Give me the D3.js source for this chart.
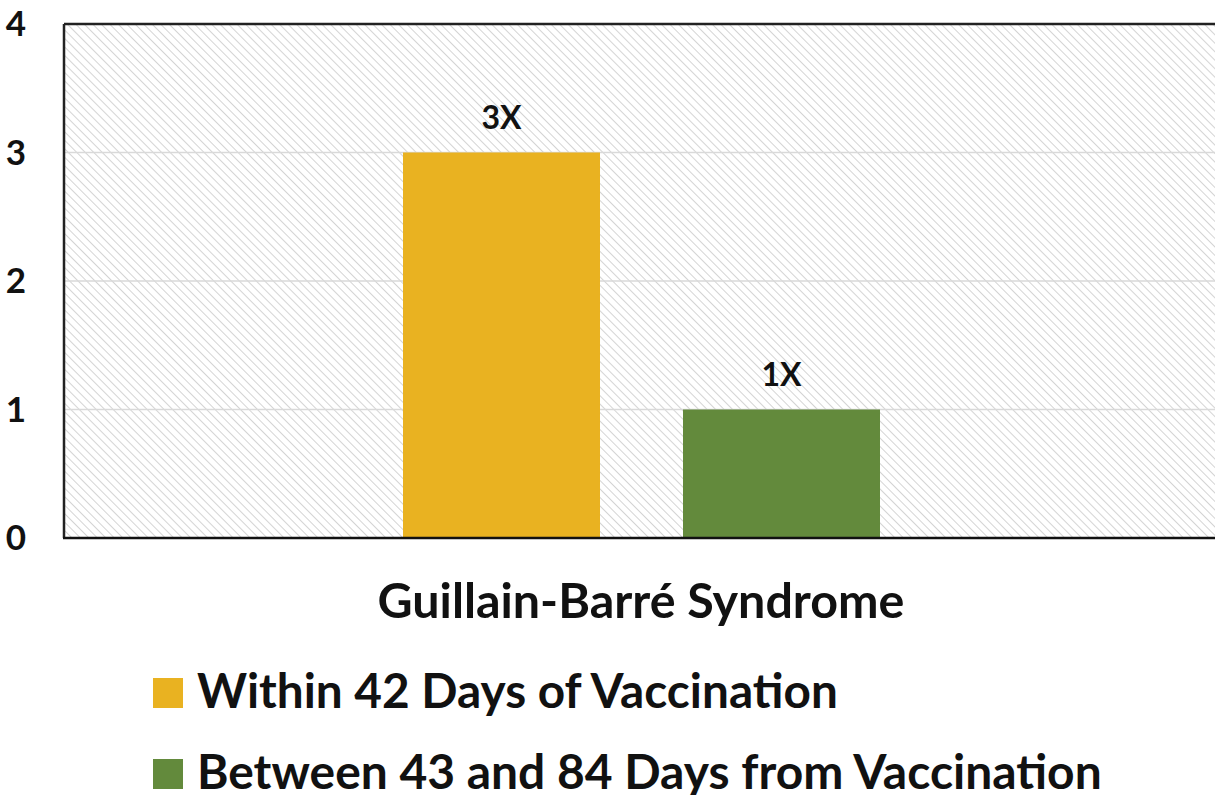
<!DOCTYPE html>
<html><head><meta charset="utf-8">
<script src="https://cdn.jsdelivr.net/npm/d3@7"></script>
<style>body{margin:0;background:#fff}svg{display:block}text{font-family:Lato,"Open Sans",sans-serif;font-weight:bold}</style>
</head><body><svg id="c" width="1215" height="795"></svg>
<script>
const category = "Guillain-Barré Syndrome";
const seriesNames = ["Within 42 Days of Vaccination", "Between 43 and 84 Days from Vaccination"];
const seriesValues = [3, 1];
const valueLabels = ["3X", "1X"];
const seriesColors = ["#E9B221", "#638A3C"];
const yTicks = [0, 1, 2, 3, 4];

const svg = d3.select("#c");
const m = {l: 64, t: 24, r: 0, b: 257};
const W = 1215, H = 795;
const x = d3.scaleBand().domain(seriesNames).range([403, 880]).paddingInner(0.2964);
const y = d3.scaleLinear().domain([0, 4]).range([H - m.b, m.t]);

const defs = svg.append("defs");
const pat = defs.append("pattern").attr("id","hatch").attr("patternUnits","userSpaceOnUse")
  .attr("width",6).attr("height",6).attr("patternTransform","rotate(-45)");
pat.append("rect").attr("width",6).attr("height",6).attr("fill","#fff");
pat.append("line").attr("x1",0).attr("y1",0).attr("x2",0).attr("y2",6).attr("stroke","#d4d4d4").attr("stroke-width",2);

svg.append("rect").attr("x", m.l).attr("y", m.t).attr("width", W - m.l + 5).attr("height", y(0) - m.t).attr("fill","url(#hatch)");

// gridlines
svg.append("g").selectAll("line").data(yTicks.filter(d => d > 0 && d < 4)).join("line")
  .attr("x1", m.l).attr("x2", W).attr("y1", d => y(d)).attr("y2", d => y(d))
  .attr("stroke","#d9d9d9").attr("stroke-width",1.5);

// bars
svg.append("g").selectAll("rect").data(seriesValues).join("rect")
  .attr("x", (d,i) => x(seriesNames[i])).attr("width", x.bandwidth())
  .attr("y", d => y(d)).attr("height", d => y(0) - y(d))
  .attr("fill", (d,i) => seriesColors[i]);

// value labels
svg.append("g").selectAll("text").data(seriesValues).join("text")
  .attr("x", (d,i) => x(seriesNames[i]) + x.bandwidth()/2).attr("y", d => y(d) - 24)
  .attr("text-anchor","middle").attr("font-size", 32).attr("fill","#111")
  .text((d,i) => valueLabels[i]);

// borders
svg.append("line").attr("x1", m.l).attr("x2", W).attr("y1", m.t).attr("y2", m.t).attr("stroke","#222").attr("stroke-width",2.5);
svg.append("line").attr("x1", m.l).attr("x2", m.l).attr("y1", m.t).attr("y2", y(0)).attr("stroke","#222").attr("stroke-width",2.5);
svg.append("line").attr("x1", m.l - 1).attr("x2", W).attr("y1", y(0)).attr("y2", y(0)).attr("stroke","#111").attr("stroke-width",2.5);

// y tick labels
svg.append("g").selectAll("text").data(yTicks).join("text")
  .attr("x", 16).attr("y", d => y(d) + 12).attr("text-anchor","middle")
  .attr("font-size", 35).attr("fill","#111").text(d => d);

function fitText(sel, target){
  const w = sel.node().getComputedTextLength();
  const fs = parseFloat(sel.attr("font-size"));
  sel.attr("font-size", fs * target / w);
}

const cat = svg.append("text").attr("x", 641).attr("y", 618).attr("text-anchor","middle")
  .attr("font-size", 40).attr("fill","#111").text(category);
fitText(cat, 527);

const leg = svg.append("g");
const legY = [708, 789];
const targets = [641, 905];
seriesNames.forEach((n,i) => {
  leg.append("rect").attr("x",153).attr("y",legY[i]-30).attr("width",30).attr("height",30).attr("fill",seriesColors[i]);
  const t = leg.append("text").attr("x",197).attr("y",legY[i]).attr("font-size",44).attr("fill","#111").text(n);
  fitText(t, targets[i]);
});
</script></body></html>
